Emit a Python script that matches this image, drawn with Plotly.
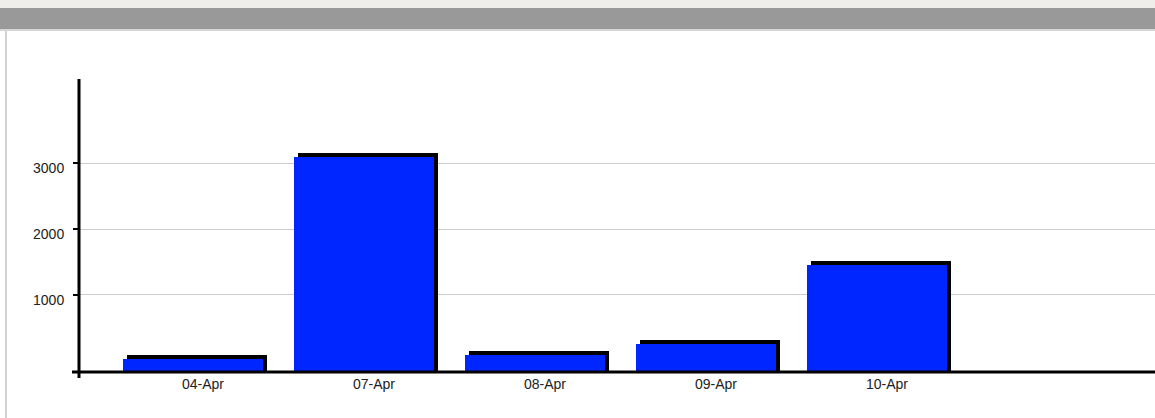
import plotly.graph_objects as go

# ---- data ----
categories = ["04-Apr", "07-Apr", "08-Apr", "09-Apr", "10-Apr"]
values = [90, 3155, 155, 320, 1520]
y_ticks = [1000, 2000, 3000]
y_tick_labels = ["1000", "2000", "3000"]

# ---- layout geometry (pixels) ----
W, H = 1155, 418
ML, MR, MT, MB = 79, 0, 79, 46
PW, PH = W - ML - MR, H - MT - MB
Y_MIN, Y_MAX = -167, 4273          # axis range (gridline scale)
X_MIN, X_MAX = -0.725, 5.567
UNIT_PX = PW / (X_MAX - X_MIN)     # px per category
YPX = PH / (Y_MAX - Y_MIN)          # px per value unit
DEPTH_PX = 4
BAR_W = 140 / UNIT_PX
BAR_OFF = -80 / UNIT_PX

def px(x):
    return (x - ML) / PW

def py(y):
    return (H - MB - y) / PH

xs = list(range(len(categories)))

fig = go.Figure()
# dark "depth" face
fig.add_trace(go.Bar(
    x=xs, y=[v - Y_MIN for v in values], base=Y_MIN,
    width=BAR_W, offset=BAR_OFF + DEPTH_PX / UNIT_PX,
    marker=dict(color="#000000", line=dict(width=0)),
    hoverinfo="skip", showlegend=False,
))
# blue front face
fig.add_trace(go.Bar(
    x=xs, y=[v - DEPTH_PX / YPX - Y_MIN for v in values], base=Y_MIN,
    width=BAR_W, offset=BAR_OFF,
    marker=dict(color="#0026ff", line=dict(width=0)),
    customdata=values, hovertemplate="%{customdata}<extra></extra>",
    showlegend=False,
))

shapes = [
    # top light strip
    dict(type="rect", xref="paper", yref="paper", x0=px(0), x1=px(W), y0=py(0), y1=py(8),
         fillcolor="#efeeea", line=dict(width=0), layer="below"),
    # dark gray header bar
    dict(type="rect", xref="paper", yref="paper", x0=px(0), x1=px(W), y0=py(8), y1=py(29),
         fillcolor="#999999", line=dict(width=0), layer="below"),
    # light separator line
    dict(type="rect", xref="paper", yref="paper", x0=px(0), x1=px(W), y0=py(29), y1=py(31),
         fillcolor="#d6d6d6", line=dict(width=0), layer="below"),
    # panel left border
    dict(type="rect", xref="paper", yref="paper", x0=px(5), x1=px(7), y0=py(31), y1=py(H),
         fillcolor="#d0d0d0", line=dict(width=0), layer="below"),
    # y axis line
    dict(type="line", xref="paper", yref="paper", x0=px(79), x1=px(79), y0=py(79), y1=py(378),
         line=dict(color="#000000", width=3)),
    # x axis line
    dict(type="line", xref="paper", yref="paper", x0=px(72), x1=px(W), y0=py(372), y1=py(372),
         line=dict(color="#000000", width=3)),
]

fig.update_layout(
    width=W, height=H,
    margin=dict(l=ML, r=MR, t=MT, b=MB),
    paper_bgcolor="#ffffff",
    plot_bgcolor="rgba(0,0,0,0)",
    barmode="overlay",
    bargap=0,
    font=dict(family="Liberation Sans, Arial, sans-serif", size=14, color="#222222"),
    shapes=shapes,
    xaxis=dict(
        range=[X_MIN, X_MAX], tickvals=xs, ticktext=categories,
        showgrid=False, zeroline=False, showline=False, ticks="",
        ticklabelstandoff=2, fixedrange=True,
    ),
    yaxis=dict(
        range=[Y_MIN, Y_MAX], tickvals=y_ticks, ticktext=y_tick_labels,
        showgrid=True, gridcolor="#cccccc", gridwidth=1,
        zeroline=False, showline=False,
        ticks="outside", ticklen=5, tickwidth=2, tickcolor="#000000",
        ticklabelstandoff=6, ticklabelshift=5, fixedrange=True,
    ),
)

fig.write_html(
    "out.html",
    config={"displayModeBar": False},
    post_script="document.body.style.margin='0';document.body.style.overflow='hidden';",
)
